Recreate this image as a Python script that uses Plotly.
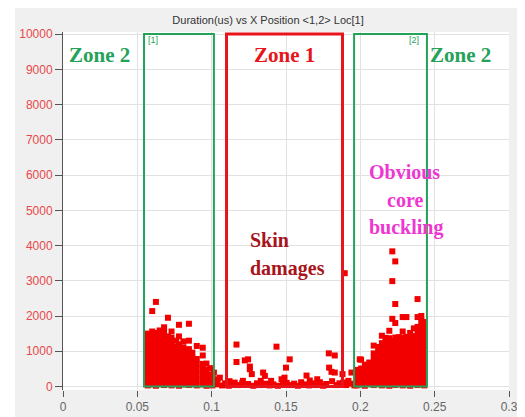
import plotly.graph_objects as go

# ---- data: X position (m) and Duration (us) ----
# Left Zone 2 cluster, grouped by x position
left_pos = [0.057, 0.060, 0.0625, 0.065, 0.068, 0.0706, 0.073, 0.076, 0.078,
            0.081, 0.0847, 0.087, 0.090, 0.094, 0.0965, 0.099, 0.1005]
left_dur = [
    [30, 180, 330, 480, 630, 780, 930, 1080, 1230, 1380, 1500],
    [60, 210, 360, 510, 660, 810, 960, 1110, 1260, 1410, 1560, 2140],
    [20, 170, 320, 470, 620, 770, 920, 1070, 1220, 1370, 1520, 2400],
    [90, 240, 390, 540, 690, 840, 990, 1140, 1290, 1440, 1590],
    [40, 190, 340, 490, 640, 790, 940, 1090, 1240, 1390, 1530, 1680],
    [70, 220, 370, 520, 670, 820, 970, 1120, 1270, 1420, 1950],
    [30, 180, 330, 480, 630, 780, 930, 1080, 1230, 1380, 1560],
    [80, 230, 380, 530, 680, 830, 980, 1130, 1300],
    [20, 170, 320, 470, 620, 770, 920, 1070, 1200, 1420, 1750],
    [60, 210, 360, 510, 660, 810, 960, 1110, 1280],
    [40, 190, 340, 490, 640, 790, 940, 1060, 1300, 1780],
    [80, 230, 380, 530, 680, 830, 960],
    [30, 180, 330, 480, 630, 780, 1150],
    [60, 210, 360, 500, 640, 880, 1100],
    [20, 170, 320, 470, 650],
    [50, 200, 340, 520],
    [30, 180, 250],
]

# Zone 1 (skin damage) events
mid_x = [0.1015, 0.1040, 0.1055, 0.1035, 0.1070, 0.1090, 0.1115, 0.1135, 0.1155, 0.1167,
         0.1167, 0.1180, 0.1205, 0.1210, 0.1223, 0.1245, 0.1257, 0.1257, 0.1270, 0.1245,
         0.1280, 0.1305, 0.1325, 0.1346, 0.1358, 0.1365, 0.1390, 0.1400, 0.1415, 0.1436,
         0.1445, 0.1470, 0.1490, 0.1500, 0.1525, 0.1505, 0.1530, 0.1555, 0.1580, 0.1602,
         0.1638, 0.1625, 0.1655, 0.1680, 0.1710, 0.1705, 0.1728, 0.1750, 0.1770, 0.1788,
         0.1828, 0.1790, 0.1806, 0.1828, 0.1810, 0.1840, 0.1860, 0.1880, 0.1885, 0.1895,
         0.1905, 0.1920, 0.1940, 0.1935, 0.1960, 0.1996, 0.1120, 0.1330, 0.1480, 0.1660]
mid_y = [395, 205, 250, 60, 30, 90, 20, 60, 110, 1190,
         695, 40, 90, 160, 740, 770, 565, 490, 350, 70,
         20, 90, 40, 395, 300, 80, 30, 160, 60, 1130,
         20, 205, 250, 535, 770, 100, 40, 80, 20, 120,
         310, 60, 30, 90, 205, 40, 120, 20, 70, 940,
         880, 535, 415, 395, 150, 40, 90, 350, 113, 3215,
         40, 160, 395, 80, 30, 770, 150, 160, 60, 170]

# Right Zone 2 cluster (core buckling), grouped by x position
right_pos = [0.1975, 0.2005, 0.203, 0.206, 0.209, 0.212, 0.2145, 0.217, 0.2195,
             0.2215, 0.2235, 0.226, 0.2285, 0.231, 0.2335, 0.236, 0.2385, 0.241, 0.243]
right_dur = [
    [30, 180, 330, 470],
    [60, 210, 360, 510, 760],
    [20, 170, 320, 470, 620],
    [80, 230, 380, 530, 680],
    [40, 190, 340, 490, 640, 790, 940, 1160],
    [70, 220, 370, 520, 670, 820, 970, 1120],
    [30, 180, 330, 480, 630, 780, 930, 1080, 1230, 1440],
    [60, 210, 360, 510, 660, 810, 960, 1110, 1260, 1380],
    [20, 170, 320, 470, 620, 770, 920, 1070, 1220, 1370, 1580],
    [90, 240, 390, 540, 690, 840, 990, 1140, 1290, 1920, 2990, 3835],
    [40, 190, 340, 490, 640, 790, 940, 1090, 1240, 1390, 1800, 2340, 3550],
    [70, 220, 370, 520, 670, 820, 970, 1120, 1270, 1400],
    [30, 180, 330, 480, 630, 780, 930, 1080, 1230, 1380, 1560, 1970],
    [60, 210, 360, 510, 660, 810, 960, 1110, 1260, 1410, 1970],
    [20, 170, 320, 470, 620, 770, 920, 1070, 1220, 1370, 1520],
    [80, 230, 380, 530, 680, 830, 980, 1130, 1280, 1430, 1650],
    [40, 190, 340, 490, 640, 790, 940, 1090, 1240, 1390, 1540, 1690, 1970, 2480],
    [70, 220, 370, 520, 670, 820, 970, 1120, 1270, 1420, 1570, 1720, 1870, 2000],
    [30, 180, 330, 480, 630, 780, 930, 1080, 1230, 1380, 1530, 1680, 1830],
]

# Zone boundaries (x position)
zone2a = [0.0545, 0.1015]
zone1 = [0.110, 0.188]
zone2b = [0.1958, 0.2448]

x_ticks = [0, 0.05, 0.1, 0.15, 0.2, 0.25, 0.3]
x_tick_text = ["0", "0.05", "0.1", "0.15", "0.2", "0.25", "0.3"]
y_ticks = [0, 1000, 2000, 3000, 4000, 5000, 6000, 7000, 8000, 9000, 10000]
y_tick_text = ["0", "1000", "2000", "3000", "4000", "5000", "6000", "7000", "8000", "9000", "10000"]

# ---- build flat series ----
xs, ys = [], []
for p, vals in zip(left_pos, left_dur):
    for v in vals:
        xs.append(p); ys.append(v)
xs += mid_x; ys += mid_y
for p, vals in zip(right_pos, right_dur):
    for v in vals:
        xs.append(p); ys.append(v)

RED = "#f20000"
GREEN = "#25a25a"
ZRED = "#e8141c"
MAG = "#ee36d2"
DRED = "#a8141c"
SERIF = "Liberation Serif, Times New Roman, serif"
SANS = "Liberation Sans, Arial, sans-serif"

fig = go.Figure()
fig.add_trace(go.Scatter(
    x=xs, y=ys, mode="markers",
    marker=dict(symbol="square", size=6, color=RED, line=dict(width=0)),
    showlegend=False, hoverinfo="x+y"))

shapes = []
for (a, b), col, w in [(zone2a, GREEN, 2), (zone1, ZRED, 3), (zone2b, GREEN, 2)]:
    shapes.append(dict(type="rect", xref="x", yref="y", x0=a, x1=b, y0=0, y1=10000,
                       line=dict(color=col, width=w), fillcolor="rgba(0,0,0,0)",
                       layer="above"))
# thin white border strip on the left of the original panel
shapes.append(dict(type="rect", xref="paper", yref="paper", x0=-0.2, x1=-0.1076,
                   y0=-0.2, y1=1.2, fillcolor="white", line=dict(width=0), layer="below"))

ann = []
def txt(x, y, t, color, size, xanchor="center", font=SERIF, bold=True):
    ann.append(dict(x=x, y=y, xref="x", yref="y", text=("<b>%s</b>" % t) if bold else t,
                    showarrow=False, xanchor=xanchor, yanchor="middle",
                    font=dict(family=font, size=size, color=color)))

txt(0.0027, 9420, "Zone 2", GREEN, 21, "left")
txt(0.1492, 9420, "Zone 1", ZRED, 21)
txt(0.2675, 9420, "Zone 2", GREEN, 21)
txt(0.2298, 6090, "Obvious", MAG, 20)
txt(0.2298, 5300, "core", MAG, 20)
txt(0.2310, 4500, "buckling", MAG, 20)
txt(0.1243, 4160, "Skin", DRED, 20, "left")
txt(0.1243, 3340, "damages", DRED, 20, "left")
txt(0.0560, 9840, "[1]", GREEN, 9, "left", SANS, False)
txt(0.2410, 9840, "[2]", GREEN, 9, "right", SANS, False)

fig.update_layout(
    width=517, height=409,
    margin=dict(l=55, r=16, t=24, b=27),
    paper_bgcolor="#f0f0f0", plot_bgcolor="white",
    title=dict(text="Duration(us) vs X Position <1,2> Loc[1]", x=0.503, xanchor="center",
               y=0.971, yanchor="middle", font=dict(family=SANS, size=11, color="#333333")),
    shapes=shapes, annotations=ann,
    xaxis=dict(range=[0, 0.3], tickvals=x_ticks, ticktext=x_tick_text, automargin=False,
               showgrid=True, gridcolor="#e2e2e2", gridwidth=1, zeroline=False,
               showline=False, ticks="outside", ticklen=6, tickcolor="#555555",
               tickfont=dict(family=SANS, size=12, color="#666666")),
    yaxis=dict(range=[-100, 10060], tickvals=y_ticks, ticktext=y_tick_text, automargin=False,
               showgrid=True, gridcolor="#e2e2e2", gridwidth=1, zeroline=False,
               showline=True, linecolor="#555555", linewidth=1,
               ticks="outside", ticklen=7, tickcolor="#555555",
               tickfont=dict(family=SANS, size=12, color="#e8484a")),
)

fig.write_html("out.html")
